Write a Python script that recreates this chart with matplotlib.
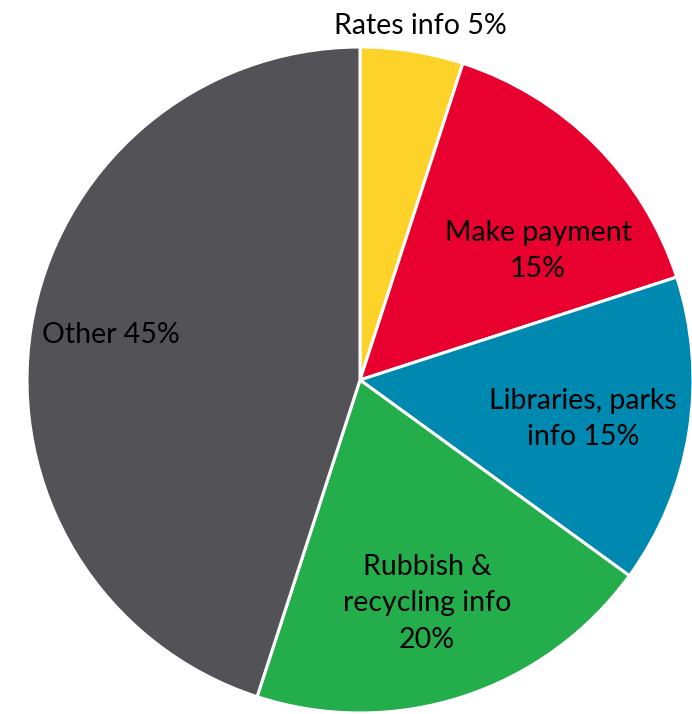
import numpy as np
import matplotlib
matplotlib.use("Agg")
import matplotlib.pyplot as plt

labels = ["Rates info 5%", "Make payment\n15%", "Libraries, parks\ninfo 15%",
          "Rubbish &\nrecycling info\n20%", "Other 45%"]
shares = [5, 15, 15, 20, 45]
colors = ["#FDD329", "#E8002E", "#0089B0", "#24AE4B", "#535257"]

# label placement: (angle in degrees, distance as a fraction of the radius)
label_pos = [(80.3, 1.08), (35.9, 0.66), (-9.9, 0.68), (-73.3, 0.70), (169.7, 0.76)]

R = 333
fig = plt.figure(figsize=(6.92, 7.14), dpi=100)
ax = fig.add_axes([0, 0, 1, 1])

ax.pie(shares, colors=colors, radius=R, startangle=90, counterclock=False,
       wedgeprops=dict(edgecolor="white", linewidth=2.2))

for text, (ang, d) in zip(labels, label_pos):
    a = np.deg2rad(ang)
    x, y = R * d * np.cos(a), R * d * np.sin(a)
    ax.text(x, y, text, ha="center", va="center", fontsize=20.5, family="Lato",
            color="black", linespacing=1.5)

ax.set_xlim(-360, 332)
ax.set_ylim(-334, 380)
ax.set_aspect("equal")
ax.axis("off")

fig.savefig("out.png", dpi=100)
